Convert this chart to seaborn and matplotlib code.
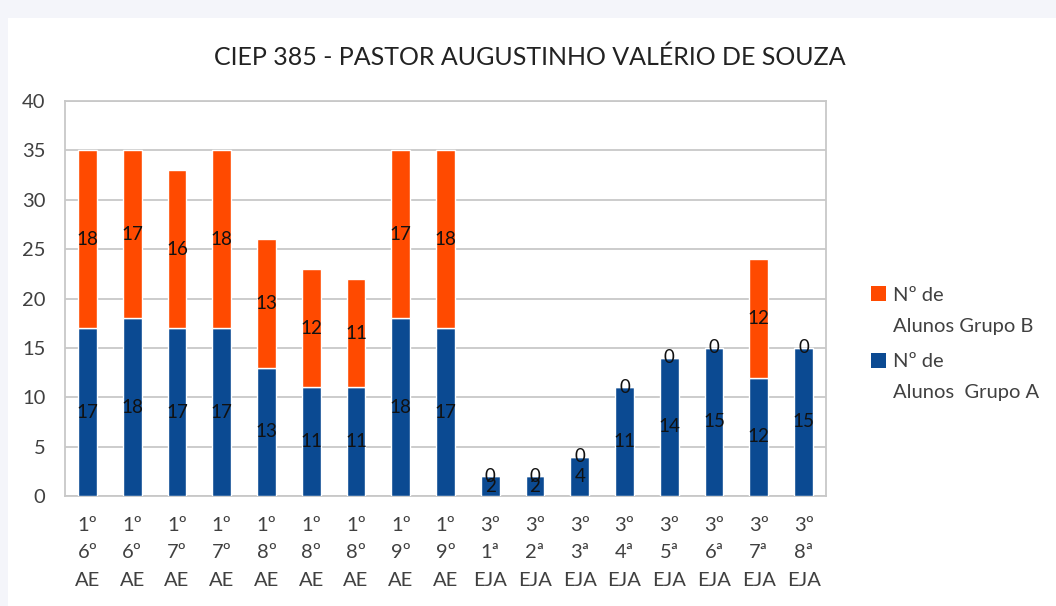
import matplotlib
matplotlib.use("Agg")
import matplotlib.pyplot as plt
import seaborn as sns
import pandas as pd
from matplotlib.patches import Rectangle, Patch

categories = ["1º\n6º\nAE", "1º\n6º\nAE", "1º\n7º\nAE", "1º\n7º\nAE", "1º\n8º\nAE",
              "1º\n8º\nAE", "1º\n8º\nAE", "1º\n9º\nAE", "1º\n9º\nAE",
              "3º\n1ª\nEJA", "3º\n2ª\nEJA", "3º\n3ª\nEJA", "3º\n4ª\nEJA",
              "3º\n5ª\nEJA", "3º\n6ª\nEJA", "3º\n7ª\nEJA", "3º\n8ª\nEJA"]
grupo_a = [17, 18, 17, 17, 13, 11, 11, 18, 17, 2, 2, 4, 11, 14, 15, 12, 15]
grupo_b = [18, 17, 16, 18, 13, 12, 11, 17, 18, 0, 0, 0, 0, 0, 0, 12, 0]
yticks = [0, 5, 10, 15, 20, 25, 30, 35, 40]
title = "CIEP 385 - PASTOR AUGUSTINHO VALÉRIO DE SOUZA"
legend_b = ["Nº de", "Alunos Grupo B"]
legend_a = ["Nº de", "Alunos  Grupo A"]

sns.set_theme(style="white")
plt.rcParams['font.family'] = ['Lato', 'DejaVu Sans']

orange = "#FF4A00"
blue = "#0B4A92"
txt = "#404040"

ids = [f"c{i}" for i in range(len(categories))]
df = pd.DataFrame({"id": ids, "a": grupo_a, "b": grupo_b})

fig = plt.figure(figsize=(10.56, 6.06), dpi=100)
fig.patch.set_facecolor("#F4F5FA")
fig.patches.append(Rectangle((8/1056, 0), 1 - 8/1056, 1 - 18/606,
                             transform=fig.transFigure, facecolor="white",
                             edgecolor="none", zorder=-10))
ax = fig.add_axes([65/1056, 1 - 496/606, (826-65)/1056, (496-101)/606])
ax.set_facecolor("white")

sns.barplot(data=df, x="id", y="a", color=blue, width=0.42, saturation=1,
            ax=ax, zorder=3)
sns.barplot(data=df, x="id", y="b", color=orange, width=0.42, saturation=1,
            bottom=df["a"].values, ax=ax, zorder=3)

for cont in ax.containers:
    ax.bar_label(cont, label_type="center", fontsize=13.5, color="#111111")

ax.set_ylim(0, 40)
ax.set_xlim(-0.5, len(categories) - 0.5)
ax.set_yticks(yticks)
ax.set_yticklabels([str(v) for v in yticks])
ax.set_xticks(range(len(categories)))
ax.set_xticklabels(categories, linespacing=1.75)
ax.tick_params(axis="y", length=0, pad=14, labelsize=14.5, labelcolor=txt)
ax.tick_params(axis="x", length=0, pad=15, labelsize=14.5, labelcolor=txt)
ax.yaxis.grid(True, color="#C8C8C8", linewidth=1.3, zorder=0)
ax.set_axisbelow(True)
for s in ax.spines.values():
    s.set_color("#C8C8C8")
    s.set_linewidth(1.3)
ax.set_xlabel("")
ax.set_ylabel("")

fig.text(0.502, 1 - 57/606, title, ha="center", va="center",
         fontsize=18, color="#222222")

handles = [Patch(facecolor=orange, edgecolor="none"),
           Patch(facecolor=blue, edgecolor="none")]
leg = fig.legend(handles, [legend_b[0], legend_a[0]], loc="upper left",
                 bbox_to_anchor=(853/1056, 1 - 268/606), frameon=False,
                 fontsize=14.5, handlelength=0.75, handleheight=0.75,
                 handletextpad=0.35, labelspacing=2.45, labelcolor=txt)
fig.canvas.draw()
rend = fig.canvas.get_renderer()
for t, second in zip(leg.get_texts(), [legend_b[1], legend_a[1]]):
    bb = t.get_window_extent(rend)
    x0, y0 = fig.transFigure.inverted().transform((bb.x0, bb.y0))
    fig.text(x0, y0 - 14/606, second, ha="left", va="top",
             fontsize=14.5, color=txt)

fig.savefig("out.png", dpi=100, facecolor=fig.get_facecolor())
